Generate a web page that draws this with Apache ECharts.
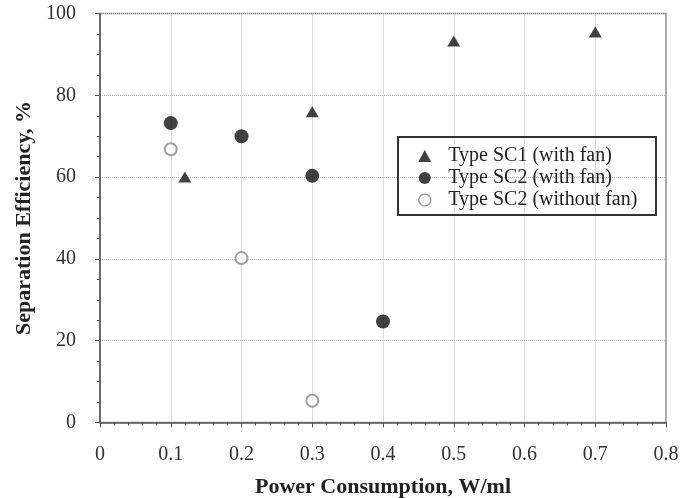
<!DOCTYPE html>
<html>
<head>
<meta charset="utf-8">
<script src="https://cdn.jsdelivr.net/npm/echarts@6/dist/echarts.min.js"></script>
<style>
  html, body { margin: 0; padding: 0; background: #fff; }
  #chart { width: 683px; height: 498px; }
</style>
</head>
<body>
<div id="chart"></div>
<script>
// Separation efficiency vs. power consumption for the two separator types
const sc1WithFan = [[0.12, 60], [0.3, 76], [0.5, 93.3], [0.7, 95.5]];
const sc2WithFan = [[0.1, 73.2], [0.2, 70], [0.3, 60.3], [0.4, 24.7]];
const sc2WithoutFan = [[0.1, 66.8], [0.2, 40.2], [0.3, 5.3]];
const seriesNames = ['Type SC1 (with fan)', 'Type SC2 (with fan)', 'Type SC2 (without fan)'];
const xTicks = { min: 0, max: 0.8, interval: 0.1 };
const yTicks = { min: 0, max: 100, interval: 20 };

const serif = '"Liberation Serif", "DejaVu Serif", serif';
const chart = echarts.init(document.getElementById('chart'), null, { renderer: 'canvas' });

chart.setOption({
  animation: false,
  backgroundColor: '#fff',
  grid: {
    left: 100, right: 17, top: 13.5, bottom: 75.5,
    outerBoundsMode: 'none',
    containLabel: false,
    show: true, borderColor: '#888', borderWidth: 1.5, backgroundColor: 'transparent'
  },
  xAxis: {
    type: 'value',
    min: xTicks.min, max: xTicks.max, interval: xTicks.interval,
    name: 'Power Consumption, W/ml',
    nameLocation: 'middle',
    nameGap: 54,
    nameTextStyle: { fontFamily: serif, fontWeight: 'bold', fontSize: 22, color: '#222' },
    axisLine: { lineStyle: { color: '#555', width: 1.5 } },
    axisTick: { show: true, inside: false, length: 5, lineStyle: { color: '#555' } },
    minorTick: { show: true, splitNumber: 5, length: 3, lineStyle: { color: '#555' } },
    axisLabel: {
      fontFamily: serif, fontSize: 20, color: '#333', margin: 22,
      formatter: v => (Math.round(v * 10) / 10).toString()
    },
    splitLine: { show: true, lineStyle: { color: '#bbb', type: 'dotted', width: 1 } }
  },
  yAxis: {
    type: 'value',
    min: yTicks.min, max: yTicks.max, interval: yTicks.interval,
    name: 'Separation Efficiency, %',
    nameLocation: 'middle',
    nameGap: 63,
    nameRotate: 90,
    nameTextStyle: { fontFamily: serif, fontWeight: 'bold', fontSize: 22, color: '#222' },
    axisLine: { show: true, lineStyle: { color: '#555', width: 1.5 } },
    axisTick: { show: true, inside: false, length: 5, lineStyle: { color: '#555' } },
    minorTick: { show: true, splitNumber: 4, length: 3, lineStyle: { color: '#555' } },
    axisLabel: { fontFamily: serif, fontSize: 20, color: '#333', margin: 24 },
    splitLine: { show: true, lineStyle: { color: '#bbb', type: 'dotted', width: 1 } }
  },
  legend: {
    orient: 'vertical',
    left: 413, top: 141,
    itemWidth: 13, itemHeight: 12,
    itemGap: 2,
    textStyle: { fontFamily: serif, fontSize: 20, color: '#222', padding: [0, 0, 0, 12] },
    data: [
      { name: seriesNames[0], icon: 'triangle', itemStyle: { color: '#111' } },
      { name: seriesNames[1], icon: 'circle', itemStyle: { color: '#111' } },
      { name: seriesNames[2], icon: 'circle', itemStyle: { color: '#fff', borderColor: '#888', borderWidth: 1.5 } }
    ]
  },
  graphic: [{
    type: 'rect',
    shape: { x: 398, y: 137, width: 258, height: 78 },
    style: { fill: 'transparent', stroke: '#333', lineWidth: 2 },
    z: 10
  }],
  series: [
    {
      name: seriesNames[0], type: 'scatter', data: sc1WithFan,
      symbol: 'triangle', symbolSize: [13, 11],
      itemStyle: { color: '#111' }
    },
    {
      name: seriesNames[1], type: 'scatter', data: sc2WithFan,
      symbol: 'circle', symbolSize: 14,
      itemStyle: { color: '#111' }
    },
    {
      name: seriesNames[2], type: 'scatter', data: sc2WithoutFan,
      symbol: 'circle', symbolSize: 12,
      itemStyle: { color: '#fff', borderColor: '#888', borderWidth: 2 }
    }
  ]
});
</script>
</body>
</html>
